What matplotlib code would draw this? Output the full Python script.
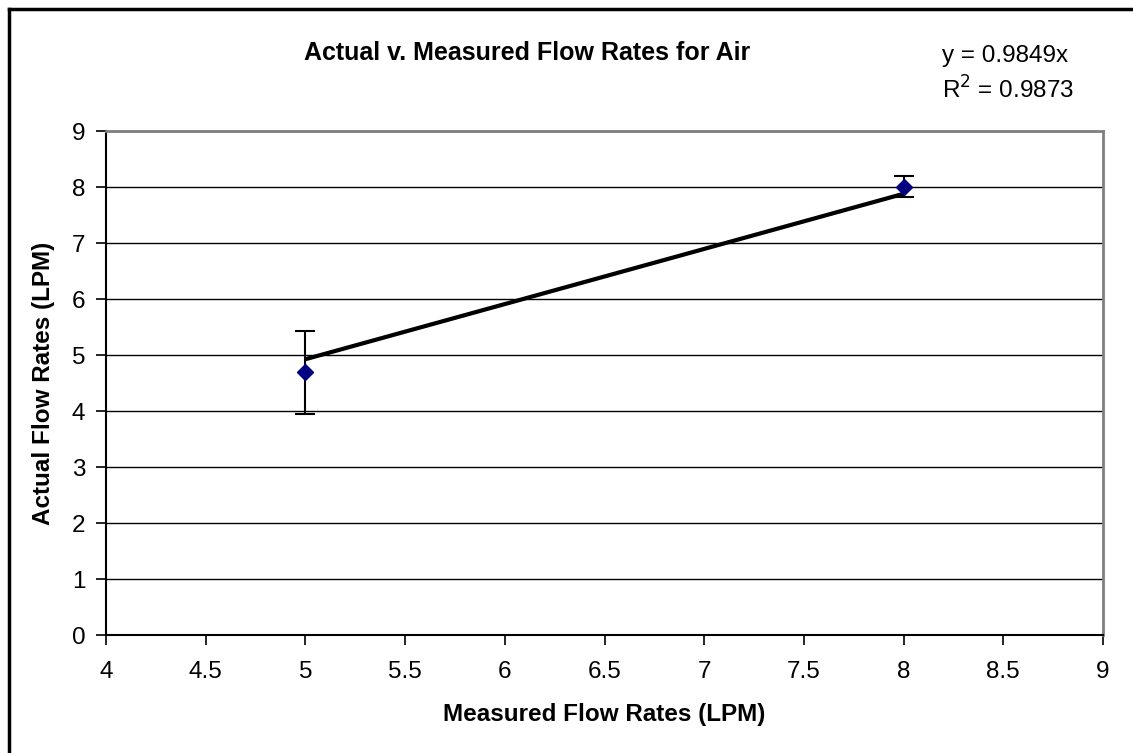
import matplotlib.pyplot as plt
import matplotlib.lines as mlines
import numpy as np

# Dados
medido = [5, 8]
real = [4.7, 8.0]
erro_baixo = [0.75, 0.17]
erro_cima = [0.73, 0.20]
inclinacao = 0.9849
r2 = 0.9873

plt.rcParams['font.family'] = ['Liberation Sans', 'DejaVu Sans']

fig = plt.figure(figsize=(11.33, 7.53), dpi=100)
ax = fig.add_axes([106/1133, 1 - 635/753, (1103-106)/1133, (635-131)/753])

# Linhas de grade
for y in range(1, 10):
    ax.axhline(y, color='#000000', lw=1.0, zorder=1)

# Linha de tendência
xt = np.array([medido[0], medido[-1]])
ax.plot(xt, inclinacao * xt, color='black', lw=3, zorder=2, solid_capstyle='butt')

# Pontos com barras de erro
ax.errorbar(medido, real, yerr=[erro_baixo, erro_cima], fmt='D', color='#000080',
            markersize=8, ecolor='black', elinewidth=1.5, capsize=7, capthick=1.5, zorder=3)

ax.set_xlim(4, 9)
ax.set_ylim(0, 9)
ax.set_xticks(np.arange(4, 9.01, 0.5))
ax.set_xticklabels(['4', '4.5', '5', '5.5', '6', '6.5', '7', '7.5', '8', '8.5', '9'])
ax.set_yticks(range(0, 10))

ax.spines['top'].set_color('#808080')
ax.spines['right'].set_color('#808080')
ax.spines['top'].set_linewidth(2)
ax.spines['right'].set_linewidth(2)
ax.spines['left'].set_linewidth(1.5)
ax.spines['bottom'].set_linewidth(1.5)

ax.tick_params(axis='both', labelsize=17.5, direction='out', length=7, width=1.2)
ax.tick_params(axis='x', pad=12)
ax.tick_params(axis='y', pad=8)

ax.set_xlabel('Measured Flow Rates (LPM)', fontsize=17.5, fontweight='bold', labelpad=14)
ax.set_ylabel('Actual Flow Rates (LPM)', fontsize=17.5, fontweight='bold', labelpad=12)

fig.text(527/1133, 1 - 53/753, 'Actual v. Measured Flow Rates for Air', fontsize=18,
         fontweight='bold', ha='center', va='center')
fig.text(942/1133, 1 - 56/753, 'y = %.4fx' % inclinacao, fontsize=17.5, ha='left', va='center')
fig.text(942/1133, 1 - 90/753, 'R$^2$ = %.4f' % r2, fontsize=17.5, ha='left', va='center')

# Borda da figura (só topo e esquerda visíveis)
fig.add_artist(mlines.Line2D([9/1133, 1], [1 - 9/753, 1 - 9/753], color='black', lw=2.5,
                             transform=fig.transFigure))
fig.add_artist(mlines.Line2D([9/1133, 9/1133], [0, 1 - 9/753], color='black', lw=2.5,
                             transform=fig.transFigure))

fig.savefig('out.png', dpi=100)
